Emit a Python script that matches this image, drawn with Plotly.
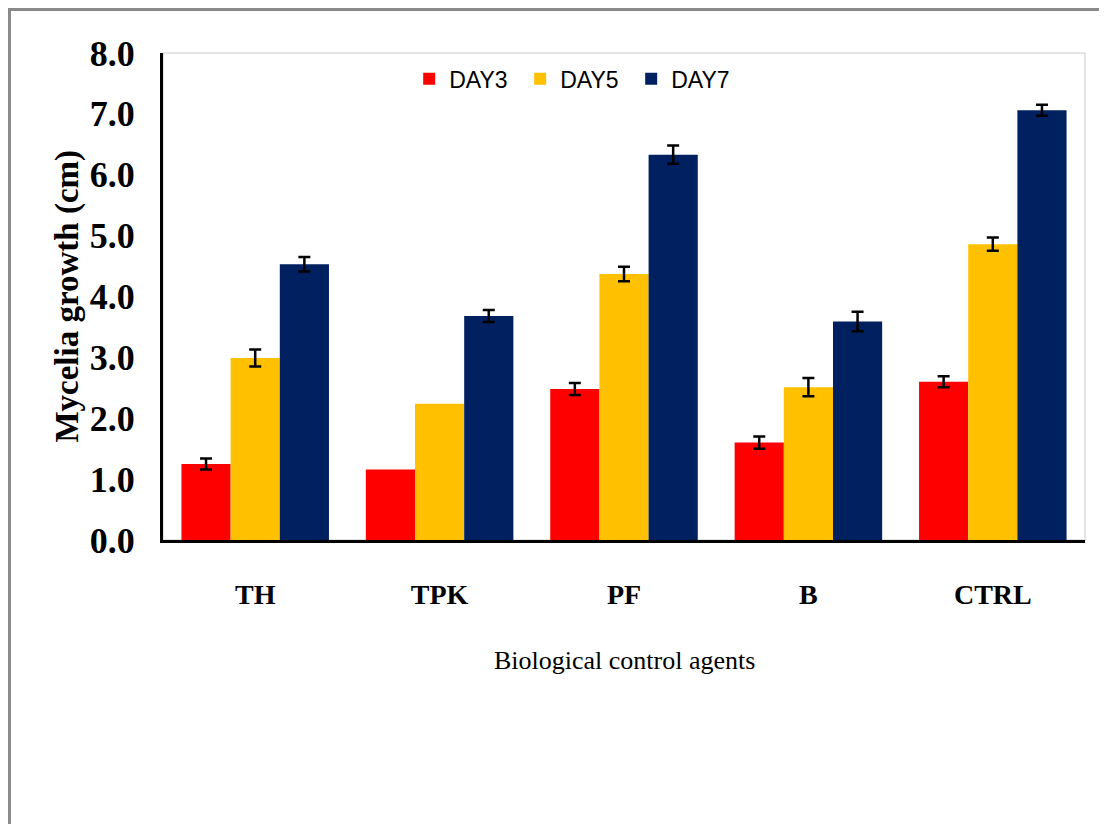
import plotly.graph_objects as go

categories = ["TH", "TPK", "PF", "B", "CTRL"]
series_names = ["DAY3", "DAY5", "DAY7"]
day3 = [1.25, 1.16, 2.48, 1.60, 2.60]
day5 = [2.99, 2.24, 4.37, 2.51, 4.86]
day7 = [4.53, 3.68, 6.33, 3.59, 7.06]
err3 = [0.09, None, 0.10, 0.10, 0.09]
err5 = [0.14, None, 0.12, 0.15, 0.11]
err7 = [0.12, 0.10, 0.15, 0.16, 0.09]
colors = ["#FF0000", "#FFC000", "#002060"]
y_ticks = [0, 1, 2, 3, 4, 5, 6, 7, 8]


def err_arr(a):
    # "NaN" strings make plotly.js skip the error bar entirely
    return [("NaN" if v is None else v) for v in a]


fig = go.Figure()
for name, vals, errs, col in zip(series_names, [day3, day5, day7], [err3, err5, err7], colors):
    fig.add_trace(go.Bar(
        name=name, x=categories, y=vals,
        marker=dict(color=col, line=dict(width=0)),
        error_y=dict(type="data", array=err_arr(errs), visible=True,
                     color="black", thickness=2.5, width=6),
    ))

serif = "Liberation Serif, Times New Roman, serif"

fig.update_layout(
    width=1099, height=816, autosize=False,
    margin=dict(l=155, r=22, t=45, b=284, pad=0),
    paper_bgcolor="white", plot_bgcolor="white",
    barmode="group", bargap=0.2, bargroupgap=0,
    showlegend=True,
    legend=dict(orientation="h", x=0.267, xanchor="left", y=0.947, yanchor="middle",
                font=dict(family="Liberation Sans, Arial, sans-serif", size=23, color="black"),
                bgcolor="rgba(0,0,0,0)", traceorder="normal",
                entrywidth=66, entrywidthmode="pixels"),
    xaxis=dict(showline=True, linecolor="black", linewidth=3, ticks="", showgrid=False,
               tickfont=dict(family=serif, size=28, color="black", weight="bold"),
               ticklabelstandoff=27, range=[-0.5, 4.5]),
    yaxis=dict(range=[0, 8], tickvals=y_ticks, tickformat=".1f", showline=True,
               linecolor="black", linewidth=3, ticks="", showgrid=False, zeroline=False,
               tickfont=dict(family=serif, size=36, color="black", weight="bold"),
               ticklabelstandoff=18),
    shapes=[
        dict(type="rect", xref="paper", yref="paper", x0=0, x1=1, y0=0, y1=1,
             line=dict(color="#c8c8c8", width=1), layer="below"),
        dict(type="rect", xref="paper", yref="paper", x0=-0.1665, x1=1.5, y0=-1, y1=1.0893,
             line=dict(color="#8a8a8a", width=3), layer="below"),
    ],
    annotations=[
        dict(text="Mycelia growth (cm)", textangle=-90, xref="paper", yref="paper",
             x=-0.104, y=0.5, xanchor="center", yanchor="middle", showarrow=False,
             font=dict(family=serif, size=33, color="black", weight="bold")),
        dict(text="Biological control agents", xref="paper", yref="paper",
             x=0.5, y=-0.247, xanchor="center", yanchor="middle", showarrow=False,
             font=dict(family=serif, size=26, color="black")),
    ],
)

fig.write_html("out.html")
